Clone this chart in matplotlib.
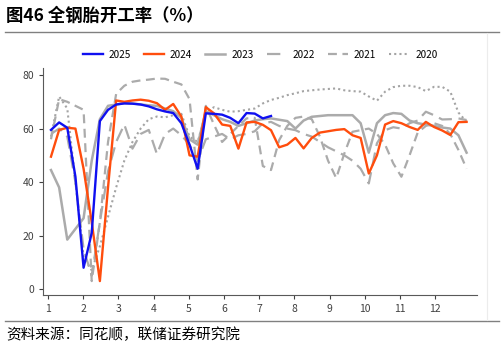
import numpy as np
import matplotlib.pyplot as plt

plt.rcParams['font.family'] = ['Noto Sans CJK SC', 'DejaVu Sans']

# 全钢胎开工率(%)，按周
y2025 = [59.5, 62.3, 60.3, 42, 8, 21, 62.8, 67, 69, 69.4, 69.3, 69, 68.3, 67.2,
         66.4, 65.8, 62, 54, 45, 65.7, 65.5, 65.2, 64, 62, 65.8, 65.6, 63.8, 64.7]
y2024 = [49.5, 59.5, 60.3, 60, 45, 25, 3, 38, 70.5, 70, 70.5, 70.8, 70.4, 69.5,
         67, 69.2, 64.5, 50, 49.5, 68, 65.7, 61.5, 61, 52.5, 62.3, 62.5, 61.4, 59.4,
         53, 54, 56.5, 52.6, 56.5, 58.5, 59, 59.5, 59.8, 57.5, 56.5, 43.2, 50, 61.5,
         62.8, 62, 60.6, 59.5, 62.5, 60.6, 59.3, 57.6, 62.4, 62.5]
y2023 = [44.5, 38, 18.5, 22.5, 26.5, 48, 63.5, 68.5, 69, 69.5, 69.4, 69, 68.7, 68.5,
         67.5, 66.5, 64, 56, 54, 66.5, 65, 63.5, 62.5, 61, 62, 63, 63.5, 63.8,
         63.3, 62.8, 60, 63, 64.4, 64.7, 65, 65, 65, 65, 62, 51, 62, 65,
         65.8, 65.5, 63, 62, 61.5, 61, 60.4, 60, 57.5, 51]
y2022 = [58, 60, 57, 40, 15, 5, 25, 44, 55, 61.5, 52.5, 58, 59.5, 50.5,
         58, 60, 57.5, 54, 48, 56, 57, 58, 56, 57.5, 58, 59, 62, 62.5,
         61, 60, 59.4, 58, 57, 55, 53, 51.5, 50, 48, 45, 39.5, 54.5, 59.4,
         60.5, 60, 62, 63, 66.3, 65, 63.4, 63.5, 63.8, 63.2]
y2021 = [56, 71, 70, 68.5, 67, 3, 25, 55, 73, 76, 77.5, 78, 78.3, 78.7,
         78.6, 77.5, 76.5, 71, 41, 68.5, 61.5, 55, 58, 61, 63.8, 64, 46, 44.5,
         55.7, 61, 64, 64.5, 63.5, 57, 48, 41.5, 50.7, 58.8, 59.4, 60, 58, 54,
         47, 42, 50, 58.5, 61, 62, 61, 58, 52, 45]
y2020 = [57, 72, 67.5, 40, 12, 7, 16, 27, 38, 48, 55, 60, 63.5, 64.5,
         64.2, 65, 65.5, 57, 55, 66, 68, 67, 66.3, 66.5, 67, 67.5, 69.4, 70.7,
         71.5, 72.5, 73.2, 74, 74.3, 74.6, 74.8, 75, 74.3, 74, 73.8, 72, 70.4, 73.8,
         75.5, 76, 76, 75.5, 74, 75.6, 75.6, 73.8, 66, 62.5]
months = [str(m) for m in range(1, 13)]

fig = plt.figure(figsize=(5.04, 3.48), dpi=100)
ax = fig.add_axes([0.0853, 0.1523, 0.861, 0.652])

grey = '#ababab'
series = [
    ('2025', y2025, dict(color='#1010f0', lw=1.7, ls='-', zorder=6)),
    ('2024', y2024, dict(color='#ff4d0d', lw=1.7, ls='-', zorder=5)),
    ('2023', y2023, dict(color=grey, lw=1.8, ls='-', zorder=4)),
    ('2022', y2022, dict(color=grey, lw=1.6, ls=(0, (6, 3)), zorder=3)),
    ('2021', y2021, dict(color=grey, lw=1.6, ls=(0, (4, 2.5)), zorder=3)),
    ('2020', y2020, dict(color='#a4a4a4', lw=1.5, ls=(0, (1, 1.5)), zorder=2)),
]
for name, vals, style in series:
    w = np.arange(1, len(vals) + 1)
    ax.plot(w, vals, label=name, **style)

ax.set_xlim(0.02, 53.27)
ax.set_ylim(-2.2, 82.6)
ax.set_xticks(0.632 + np.arange(12) * 4.319)
ax.set_xticklabels(months)
ax.set_yticks([0, 20, 40, 60, 80])
ax.tick_params(labelsize=7.5, colors='#404040', length=3, width=0.8)
for s in ['top', 'right']:
    ax.spines[s].set_visible(False)
for s in ['left', 'bottom']:
    ax.spines[s].set_color('#595959')
    ax.spines[s].set_linewidth(0.8)

fig.legend(loc='center', bbox_to_anchor=(0.516, 0.842), ncol=6, frameon=False,
           fontsize=7.2, handlelength=2.0, handletextpad=0.6, columnspacing=1.3)

fig.text(0.012, 0.955, '图46 全钢胎开工率（%）', fontsize=12.5, fontweight='bold',
         va='center', ha='left')
fig.add_artist(plt.Line2D([0.01, 0.99], [0.908, 0.908], color='#808080', lw=1))
fig.add_artist(plt.Line2D([0.01, 0.99], [0.078, 0.078], color='#808080', lw=1))
fig.add_artist(plt.Line2D([0.966, 0.966], [0.08, 0.905], color='#ececec', lw=0.8))
fig.text(0.012, 0.037, '资料来源：同花顺，联储证券研究院', fontsize=10.5,
         va='center', ha='left')

fig.savefig('out.png', dpi=100)
